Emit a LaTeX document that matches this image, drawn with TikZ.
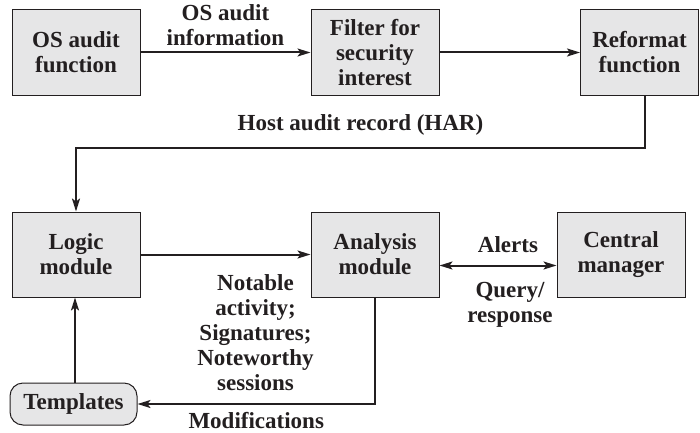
\documentclass[tikz,border=0pt]{standalone}
\usepackage{fontspec}
\setmainfont{Liberation Serif}
\usepackage{xcolor}
\usetikzlibrary{arrows.meta, positioning}

\definecolor{boxgray}{HTML}{E6E6E7}
\definecolor{ink}{HTML}{231F20}

\begin{document}
\begin{tikzpicture}[x=1pt, y=1pt, on grid, node distance=299pt,
        font=\fontsize{23}{25}\selectfont\bfseries, color=ink,
        block/.style={draw=ink, fill=boxgray, line width=1pt, minimum width=128pt, minimum height=85pt, align=center},
        flow/.style={line width=2pt, -{Stealth[length=13pt, width=8pt, inset=3pt]}},
        lbl/.style={align=center, text=ink, inner sep=0pt}]
        \useasboundingbox (0,0) rectangle (700,432);

        \node[block] (os) at (76,379.5) {OS audit\\function};
        \node[block] (filter) [right=of os] {Filter for\\security\\interest};
        \node[block, minimum width=118pt] (reformat) [right=264.5pt of filter] {Reformat\\function};

        \node[block] (logic) [below=202pt of os] {Logic\\module};
        \node[block] (analysis) [right=of logic] {Analysis\\module};
        \node[block] (central) [right=246pt of analysis] {Central\\manager};

        \node[block, rounded corners=13pt, minimum width=127pt, minimum height=42pt] (templates) at (73.5,28) {Templates};

        \coordinate (har) at (645,284);

        \draw[flow] (os) -- node[lbl, above=6pt, anchor=south] {OS audit\\information} (filter);
        \draw[flow] (filter) -- (reformat);
        \draw[flow] (reformat.south -| har) -- (har) -- node[lbl, above=12pt, anchor=south] {Host audit record (HAR)} (har -| logic.north) -- (logic.north);
        \draw[flow] (logic) -- node[lbl, below=19pt, xshift=30pt, anchor=north] {Notable\\activity;\\Signatures;\\Noteworthy\\sessions} (analysis);
        \draw[flow, {Stealth[length=13pt, width=8pt, inset=3pt]}-{Stealth[length=13pt, width=8pt, inset=3pt]}] ([yshift=-11pt]analysis.east) -- node[lbl, above=12pt, anchor=south, xshift=10pt] {Alerts} node[lbl, below=16pt, anchor=north, xshift=12pt] {Query/\\response} ([yshift=-11pt]central.west);
        \draw[flow] (analysis.south) |- node[lbl, pos=0.75, below=7pt, anchor=north] {Modifications} (templates.east);
        \draw[flow] (templates.north -| 75,0) -- (logic.south -| 75,0);
\end{tikzpicture}
\end{document}
